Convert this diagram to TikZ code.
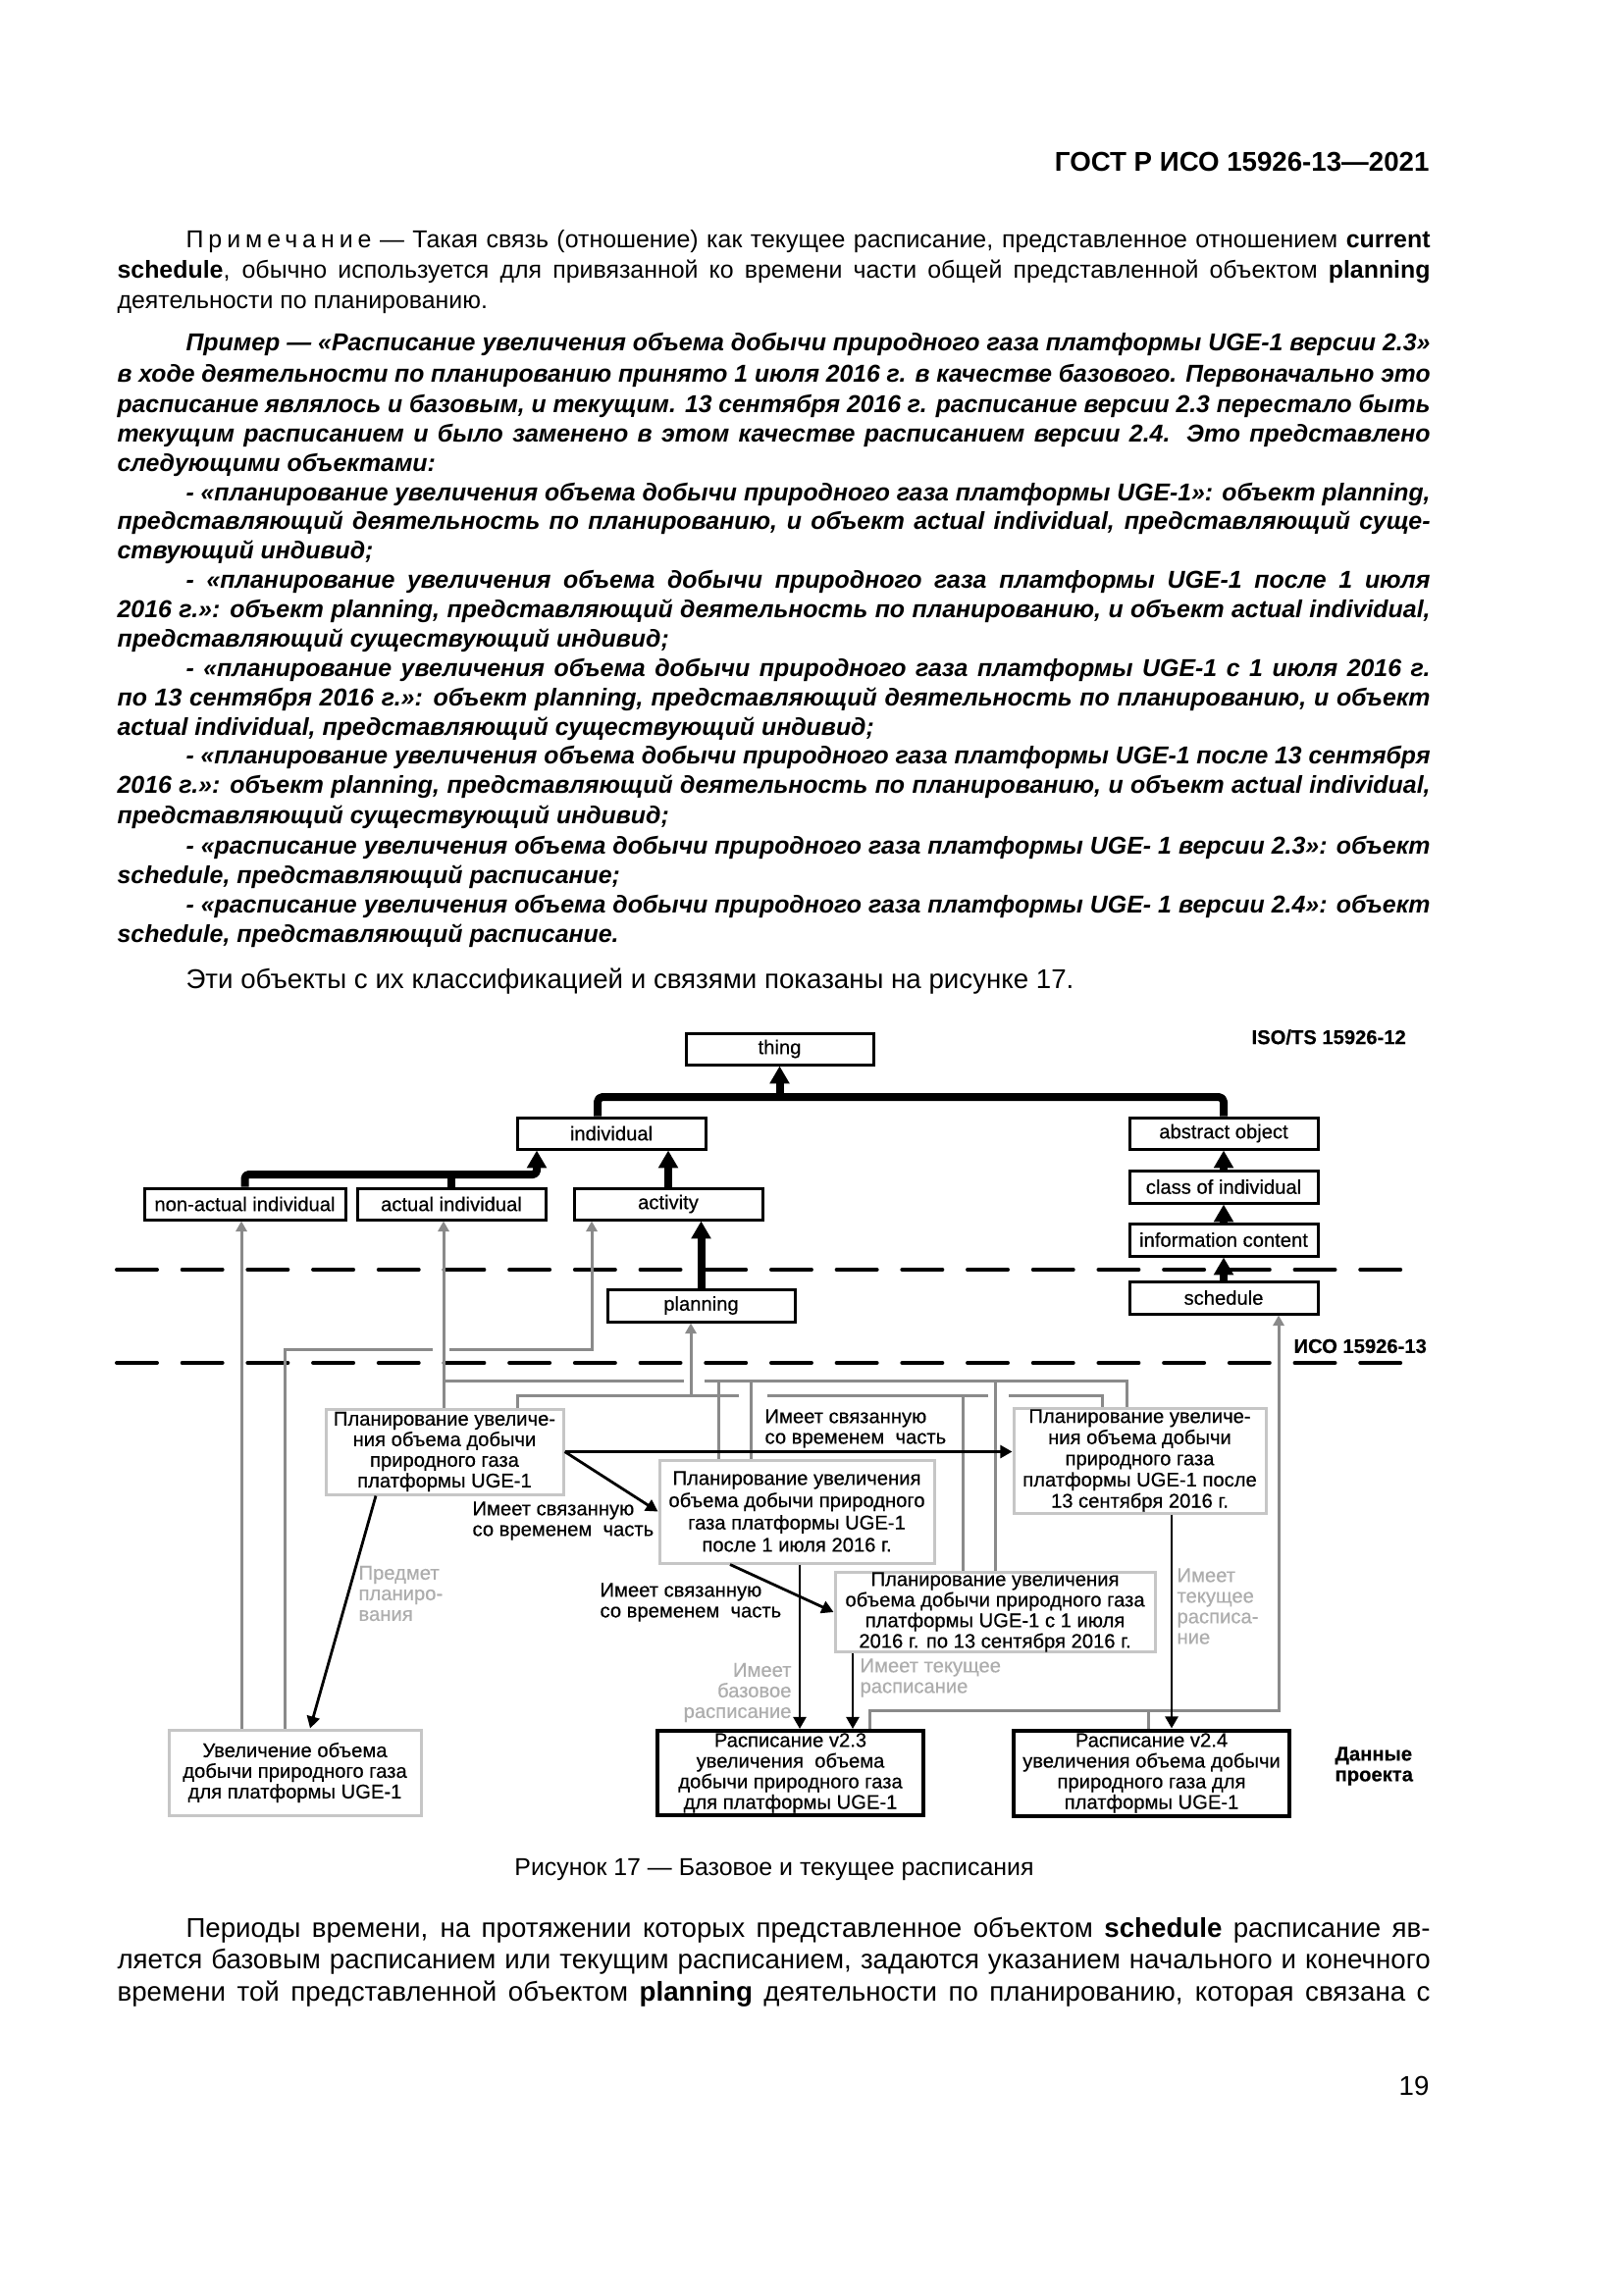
\documentclass[tikz,border=0pt]{standalone}
\usepackage{fontspec}
\setmainfont{Liberation Sans}
\newfontfamily\dfam[FakeBold=0.4]{Liberation Sans}
\usepackage{graphicx}
\usetikzlibrary{arrows.meta,calc}
\newdimen\px \px=0.127mm
\newdimen\tgtw
\newsavebox\linebox
\definecolor{lgray}{HTML}{C6C6C6}
\definecolor{mgray}{HTML}{8A8A8A}
\definecolor{tgray}{HTML}{ADADAD}
\newcommand\ninept{\fontsize{9}{11}\selectfont}
\newcommand\tenpt{\fontsize{10}{12}\selectfont}
\newcommand\dfont{\dfam\fontsize{7.3}{7.6}\selectfont}
\newcommand\fitline[2]{\sbox\linebox{#2}\ifdim\wd\linebox>#1\relax\resizebox{#1}{\height}{\usebox\linebox}\else\makebox[#1][s]{#2}\fi}
\newcommand\pjust[4]{\node[anchor=base west,inner sep=0pt] (#1) at (#2,#3) {\tgtw=\dimexpr\px*(1457-#2)\relax\fitline{\tgtw}{#4}};}
\newcommand\pleft[4]{\node[anchor=base west,inner sep=0pt] (#1) at (#2,#3) {#4};}
\tikzset{
  cls/.style={draw=black, line width=3\px, fill=white, inner sep=0pt, font=\dfont},
  gbox/.style={draw=lgray, line width=3\px, fill=white, inner sep=0pt, align=center, font=\dfont},
  bbox/.style={draw=black, line width=4\px, fill=white, inner sep=0pt, align=center, font=\dfont},
  thk/.style={line width=8\px, line join=round},
  thkarrow/.style={thk, -{Triangle[width=7pt,length=6.5pt]}},
  gline/.style={draw=mgray, line width=3\px},
  garrow/.style={gline, -{Triangle[width=4pt,length=3.8pt]}},
  barrow/.style={draw=black, line width=2.8\px, -{Triangle[width=4.7pt,length=4.4pt]}},
  lbl/.style={font=\dfont, inner sep=0pt, align=left},
  glbl/.style={lbl, text=tgray},
  dashline/.style={line width=4\px, line cap=round, dash pattern=on 14.8pt off 9.3pt},
}
\begin{document}
\begin{tikzpicture}[x=0.127mm, y=-0.127mm]
\useasboundingbox (0,0) rectangle (1654,2339);
\fill[white] (0,0) rectangle (1654,2339);

% header
\node[anchor=base east, inner sep=0pt, font=\fontsize{10}{12}\selectfont\bfseries] (hdr) at (1457,175) {ГОСТ Р ИСО 15926-13—2021};

% note
\begin{scope}[every node/.append style={font=\ninept}]
\pjust{n1}{189}{253}{{\addfontfeature{LetterSpace=20}Примечание} — Такая связь (отношение) как текущее расписание, представленное отношением \textbf{current}}
\pjust{n2}{119}{284}{\textbf{schedule}, обычно используется для привязанной ко времени части общей представленной объектом \textbf{planning}}
\pleft{n3}{119}{315}{деятельности по планированию.}
\end{scope}

% example
\begin{scope}[every node/.append style={font=\ninept\bfseries\itshape}]
\pjust{e1}{189}{358}{Пример — «Расписание увеличения объема добычи природного газа платформы UGE-1 версии 2.3»}
\pjust{e2}{119}{390}{в ходе деятельности по планированию принято 1 июля 2016 г. в качестве базового. Первоначально это}
\pjust{e3}{119}{421}{расписание являлось и базовым, и текущим. 13 сентября 2016 г. расписание версии 2.3 перестало быть}
\pjust{e4}{119}{451}{текущим расписанием и было заменено в этом качестве расписанием версии 2.4. Это представлено}
\pleft{e5}{119}{481}{следующими объектами:}
\pjust{i11}{189}{511}{- «планирование увеличения объема добычи природного газа платформы UGE-1»: объект planning,}
\pjust{i12}{119}{540}{представляющий деятельность по планированию, и объект actual individual, представляющий суще-}
\pleft{i13}{119}{570}{ствующий индивид;}
\pjust{i21}{189}{600}{- «планирование увеличения объема добычи природного газа платформы UGE-1 после 1 июля}
\pjust{i22}{119}{630}{2016 г.»: объект planning, представляющий деятельность по планированию, и объект actual individual,}
\pleft{i23}{119}{660}{представляющий существующий индивид;}
\pjust{i31}{189}{690}{- «планирование увеличения объема добычи природного газа платформы UGE-1 с 1 июля 2016 г.}
\pjust{i32}{119}{719}{по 13 сентября 2016 г.»: объект planning, представляющий деятельность по планированию, и объект}
\pleft{i33}{119}{749}{actual individual, представляющий существующий индивид;}
\pjust{i41}{189}{779}{- «планирование увеличения объема добычи природного газа платформы UGE-1 после 13 сентября}
\pjust{i42}{119}{809}{2016 г.»: объект planning, представляющий деятельность по планированию, и объект actual individual,}
\pleft{i43}{119}{839}{представляющий существующий индивид;}
\pjust{i51}{189}{870}{- «расписание увеличения объема добычи природного газа платформы UGE- 1 версии 2.3»: объект}
\pleft{i52}{119}{900}{schedule, представляющий расписание;}
\pjust{i61}{189}{930}{- «расписание увеличения объема добычи природного газа платформы UGE- 1 версии 2.4»: объект}
\pleft{i62}{119}{960}{schedule, представляющий расписание.}
\end{scope}

\begin{scope}[every node/.append style={font=\tenpt}]
\pleft{m1}{189}{1007}{Эти объекты с их классификацией и связями показаны на рисунке 17.}
\pjust{f1}{189}{1974}{Периоды времени, на протяжении которых представленное объектом \textbf{schedule} расписание яв-}
\pjust{f2}{119}{2006}{ляется базовым расписанием или текущим расписанием, задаются указанием начального и конечного}
\pjust{f3}{119}{2039}{времени той представленной объектом \textbf{planning} деятельности по планированию, которая связана с}
\node[anchor=base east, inner sep=0pt] (pgno) at (1457,2135) {19};
\end{scope}
\node[anchor=base, inner sep=0pt, font=\ninept] (cap) at (789,1911) {Рисунок 17 — Базовое и текущее расписания};

% ---------------- diagram ----------------
\coordinate (d1l) at (119,1294); \coordinate (d1r) at (1437,1294);
\coordinate (d2l) at (119,1389); \coordinate (d2r) at (1437,1389);
\draw[dashline] (d1l) -- (d1r);
\draw[dashline] (d2l) -- (d2r);

\node[lbl, font=\dfont\bfseries, anchor=west] (iso12) at (1275,1057) {ISO/TS 15926-12};
\node[lbl, font=\dfont\bfseries, anchor=west] (iso13) at (1318,1372) {ИСО 15926-13};
\node[lbl, font=\dfont\bfseries, anchor=west] (proj) at (1360,1800) {Данные\\проекта};

% class boxes
\node[cls, minimum width=191\px, minimum height=32\px] (thing) at (794.5,1069) {thing};
\node[cls, minimum width=192\px, minimum height=32\px] (individual) at (623,1155) {individual};
\node[cls, minimum width=205\px, minimum height=32\px] (nonact) at (249.5,1227) {non-actual individual};
\node[cls, minimum width=192\px, minimum height=32\px] (actual) at (460,1227) {actual individual};
\node[cls, minimum width=192\px, minimum height=32\px] (activity) at (681,1227) {activity};
\node[cls, minimum width=191\px, minimum height=33\px] (planning) at (714.5,1330.5) {planning};
\node[cls, minimum width=192\px, minimum height=32\px] (abstract) at (1247,1155) {abstract object};
\node[cls, minimum width=192\px, minimum height=33\px] (classind) at (1247,1209.5) {class of individual};
\node[cls, minimum width=192\px, minimum height=33\px] (infocont) at (1247,1263.5) {information content};
\node[cls, minimum width=192\px, minimum height=33\px] (schedule) at (1247,1322.5) {schedule};

% project data boxes
\node[gbox, minimum width=242\px, minimum height=87\px] (b1) at (453,1479.5) {Планирование увеличе-\\ния объема добычи\\природного газа\\платформы UGE-1};
\node[gbox, minimum width=280\px, minimum height=105\px, font=\dfam\fontsize{7.3}{8.2}\selectfont] (b2) at (812,1540.5) {Планирование увеличения\\объема добычи природного\\газа платформы UGE-1\\после 1 июля 2016 г.};
\node[gbox, minimum width=257\px, minimum height=107\px, font=\dfam\fontsize{7.3}{7.8}\selectfont] (b3) at (1161.5,1488.5) {Планирование увеличе-\\ния объема добычи\\природного газа\\платформы UGE-1 после\\13 сентября 2016 г.};
\node[gbox, minimum width=326\px, minimum height=80\px] (b4) at (1014,1643) {Планирование увеличения\\объема добычи природного газа\\платформы UGE-1 с 1 июля\\2016 г. по 13 сентября 2016 г.};
\node[gbox, minimum width=257\px, minimum height=87\px] (uvel) at (300.5,1806.5) {Увеличение объема\\добычи природного газа\\для платформы UGE-1};
\node[bbox, minimum width=271\px, minimum height=86\px] (v23) at (805.5,1807) {Расписание v2.3\\увеличения~~объема\\добычи природного газа\\для платформы UGE-1};
\node[bbox, minimum width=281\px, minimum height=87\px] (v24) at (1173.5,1807) {Расписание v2.4\\увеличения объема добычи\\природного газа для\\платформы UGE-1};

% thick specialisation connectors
\coordinate (jInd) at (547,1197);
\coordinate (jTop) at (609,1118);
\draw[thkarrow, rounded corners=4\px] (nonact.north) |- (jInd) -- (jInd |- individual.south);
\draw[thk] (actual.north) -- (actual.north |- jInd);
\draw[thkarrow] (activity.north) -- (activity.north |- individual.south);
\draw[thk, rounded corners=5\px] (individual.north -| jTop) -- (jTop) -- (abstract.north |- jTop) -- (abstract.north);
\draw[thkarrow] (thing.south |- jTop) -- (thing.south);
\draw[thkarrow] (classind.north) -- (abstract.south);
\draw[thkarrow] (infocont.north) -- (classind.south);
\draw[thkarrow] (schedule.north) -- (infocont.south);
\draw[thkarrow] (planning.north) -- (planning.north |- activity.south);

% gray classification connectors
\coordinate (x246) at (246,1300);
\coordinate (pA1) at (290,1375); \coordinate (pA2) at (603,1375);
\coordinate (pB1) at (452,1407); \coordinate (pB2) at (1148,1407);
\coordinate (pC1) at (527,1422); \coordinate (pC2) at (1123,1422); \coordinate (pC3) at (704,1422);
\coordinate (x732) at (732,1407); \coordinate (x765) at (765,1407);
\coordinate (x1014) at (1014,1407); \coordinate (x981) at (981,1422);
\coordinate (pD) at (1303,1743); \coordinate (pD1) at (886,1743); \coordinate (pD2) at (1170,1743);

\draw[garrow] (uvel.north -| x246) -- (nonact.south -| x246);
\draw[garrow] (uvel.north -| pA1) -- (pA1) -- (441,1375) (458,1375) -- (pA2) -- (activity.south -| pA2);
\draw[garrow] (b1.north -| pB1) -- (actual.south -| pB1);
\draw[gline] (pB1) -- (697,1407) (718,1407) -- (pB2) -- (b3.north -| pB2);
\draw[gline] (x732) -- (b2.north -| x732);
\draw[gline] (x765) -- (b2.north -| x765);
\draw[gline] (x1014) -- (b4.north -| x1014);
\draw[gline] (b1.north -| pC1) -- (pC1) -- (753,1422) (782,1422) -- (1007,1422) (1028,1422) -- (pC2) -- (b3.north -| pC2);
\draw[garrow] (pC3) -- (planning.south -| pC3);
\draw[gline] (x981) -- (b4.north -| x981);
\draw[garrow] (v23.north -| pD1) -- (pD1) -- (pD) -- (schedule.south -| pD);
\draw[gline] (v24.north -| pD2) -- (pD2);

% black relation connectors
\coordinate (q744) at (744,1593); \coordinate (q815) at (815,1600);
\coordinate (q869) at (869,1700); \coordinate (q1194) at (1194,1600);
\coordinate (q383) at (383,1523); \coordinate (q316) at (316,1762);
\draw[barrow] (b1.east) -- (b2.west);
\draw[barrow] (b1.east) -- (b1.east -| b3.west);
\draw[barrow] (b2.south -| q744) -- (b4.west);
\draw[barrow] (b2.south -| q815) -- (v23.north -| q815);
\draw[barrow] (b4.south -| q869) -- (v23.north -| q869);
\draw[barrow] (b3.south -| q1194) -- (v24.north -| q1194);
\draw[barrow] (b1.south -| q383) -- (uvel.north -| q316);

% labels
\node[lbl, anchor=west] (l1) at (481,1550) {Имеет связанную\\со временем~~часть};
\node[lbl, anchor=west] (l2) at (779,1456) {Имеет связанную\\со временем~~часть};
\node[lbl, anchor=west] (l3) at (611,1633) {Имеет связанную\\со временем~~часть};
\node[glbl, anchor=west] (g1) at (365,1624) {Предмет\\планиро-\\вания};
\node[glbl, anchor=east, align=right] (g2) at (807,1725) {Имеет\\базовое\\расписание};
\node[glbl, anchor=west] (g3) at (876,1710) {Имеет текущее\\расписание};
\node[glbl, anchor=west] (g4) at (1199,1637) {Имеет\\текущее\\расписа-\\ние};
\end{tikzpicture}
\end{document}
